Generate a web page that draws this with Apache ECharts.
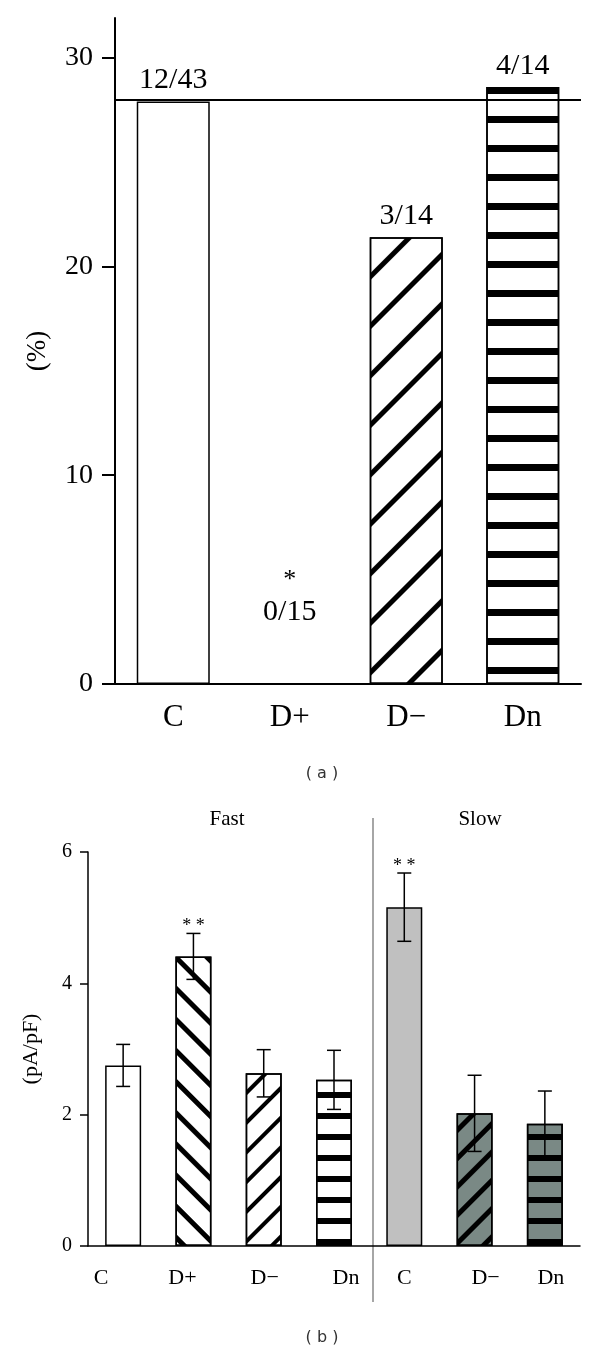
<!DOCTYPE html>
<html>
<head>
<meta charset="utf-8">
<script src="https://cdn.jsdelivr.net/npm/echarts@6/dist/echarts.min.js"></script>
<style>
html,body{margin:0;padding:0;background:#fff;}
#chart{width:600px;height:1353px;}
</style>
</head>
<body>
<div id="chart"></div>
<script>
// ---------- DATA ----------
// Panel (a)
const topCategories = ['C', 'D+', 'D\u2212', 'Dn'];
const topPercent = [27.9, 0, 21.4, 28.6];
const topCounts = ['12/43', '0/15', '3/14', '4/14'];
const topSignif = ['', '*', '', ''];
const topRefLine = 28;
const topYTicks = [0, 10, 20, 30];

// Panel (b)
const bottomCategories = ['C', 'D+', 'D\u2212', 'Dn', 'C', 'D\u2212', 'Dn'];
const bottomMean = [2.75, 4.41, 2.63, 2.53, 5.16, 2.02, 1.86];
const bottomSem = [0.32, 0.35, 0.36, 0.45, 0.52, 0.58, 0.50];
const bottomSignif = ['', '* *', '', '', '* *', '', ''];
const bottomYTicks = [0, 2, 4, 6];
const groupNames = ['Fast', 'Slow'];

// ---------- STYLES ----------
const SERIF = '"Liberation Serif", "Times New Roman", serif';
const topStyle = ['plain', 'plain', 'fwdTop', 'hTop'];
const bottomStyle = ['plain', 'back', 'fwd', 'h', 'gray', 'fwdDark', 'hDark'];
const bottomLabelShift = [-22, -11, 1, 12, 0, 11, 6];

function stripe(th, gap, rot) {
  return {symbol: 'rect', symbolSize: 1, dashArrayX: [1, 0], dashArrayY: [th, gap], rotation: rot, color: '#000'};
}
const styleMap = {
  plain:   {color: '#fff'},
  gray:    {color: '#c0c0c0'},
  fwdTop:  {color: '#fff', decal: stripe(5, 30, -Math.PI / 4)},
  hTop:    {color: '#fff', decal: stripe(7, 22, 0)},
  back:    {color: '#fff', decal: stripe(5, 17, Math.PI / 4)},
  fwd:     {color: '#fff', decal: stripe(4, 17, -Math.PI / 4)},
  h:       {color: '#fff', decal: stripe(6, 15, 0)},
  fwdDark: {color: '#7a8985', decal: stripe(5, 15, -Math.PI / 4)},
  hDark:   {color: '#7a8985', decal: stripe(6, 15, 0)}
};

const chart = echarts.init(document.getElementById('chart'), null, {renderer: 'canvas'});

const topData = topPercent.map((v, i) => {
  const st = styleMap[topStyle[i]];
  const item = {
    value: v,
    itemStyle: Object.assign({borderColor: '#000', borderWidth: 1.5}, st),
    label: {}
  };
  if (topSignif[i]) {
    item.label = {distance: 54, formatter: '{s|' + topSignif[i] + '}\n{n|' + topCounts[i] + '}'};
  } else {
    item.label = {formatter: '{n|' + topCounts[i] + '}'};
  }
  return item;
});

const bottomData = bottomMean.map((v, i) => ({
  value: v,
  itemStyle: Object.assign({borderColor: '#000', borderWidth: 1.5}, styleMap[bottomStyle[i]])
}));

const bottomKeys = bottomCategories.map((c, i) => 'k' + i);
const rich = {};
bottomLabelShift.forEach((s, i) => {
  rich['r' + i] = {
    fontFamily: SERIF, fontSize: 22, color: '#000',
    padding: s < 0 ? [0, -2 * s, 0, 0] : [0, 0, 0, 2 * s]
  };
});

const option = {
  animation: false,
  backgroundColor: '#fff',
  grid: [
    {left: 115, right: 19, top: 18, bottom: 669},
    {left: 88, right: 20, top: 852, bottom: 107}
  ],
  xAxis: [
    {
      gridIndex: 0, type: 'category', data: topCategories,
      axisLine: {lineStyle: {color: '#000', width: 2}},
      axisTick: {length: 11, lineStyle: {color: '#000', width: 2}},
      axisLabel: {fontFamily: SERIF, fontSize: 31, color: '#000', margin: 18},
      splitLine: {show: false}
    },
    {
      gridIndex: 1, type: 'category', data: bottomKeys,
      axisLine: {lineStyle: {color: '#000', width: 1.5}},
      axisTick: {length: 9, lineStyle: {color: '#000', width: 1.5}},
      axisLabel: {
        margin: 21,
        formatter: (val, idx) => '{r' + idx + '|' + bottomCategories[idx] + '}',
        rich: rich
      },
      splitLine: {show: false}
    }
  ],
  yAxis: [
    {
      gridIndex: 0, type: 'value', min: 0, max: 31.9,
      name: '(%)', nameLocation: 'middle', nameGap: 64,
      nameTextStyle: {fontFamily: SERIF, fontSize: 27, color: '#000'},
      axisLine: {show: true, lineStyle: {color: '#000', width: 2}},
      axisTick: {show: true, length: 13, customValues: topYTicks, lineStyle: {color: '#000', width: 2}},
      axisLabel: {fontFamily: SERIF, fontSize: 28, color: '#000', margin: 22, customValues: topYTicks},
      splitLine: {show: false}
    },
    {
      gridIndex: 1, type: 'value', min: 0, max: 6, interval: 2,
      name: '(pA/pF)', nameLocation: 'middle', nameGap: 46,
      nameTextStyle: {fontFamily: SERIF, fontSize: 22, color: '#000'},
      axisLine: {show: true, lineStyle: {color: '#000', width: 1.5}},
      axisTick: {show: true, length: 8, lineStyle: {color: '#000', width: 1.5}},
      axisLabel: {fontFamily: SERIF, fontSize: 20, color: '#000', margin: 16},
      splitLine: {show: false}
    }
  ],
  series: [
    {
      type: 'bar', xAxisIndex: 0, yAxisIndex: 0, barWidth: 73,
      data: topData,
      label: {
        show: true, position: 'top', distance: 4, color: '#000',
        rich: {
          n: {fontFamily: SERIF, fontSize: 30, color: '#000', lineHeight: 34},
          s: {fontFamily: SERIF, fontSize: 26, color: '#000', lineHeight: 30}
        }
      },
      markLine: {
        silent: true, symbol: 'none', label: {show: false},
        lineStyle: {color: '#000', width: 2, type: 'solid'},
        data: [{yAxis: topRefLine}]
      }
    },
    {
      type: 'bar', xAxisIndex: 1, yAxisIndex: 1, barWidth: 36,
      data: bottomData
    },
    {
      type: 'custom', xAxisIndex: 1, yAxisIndex: 1, z: 10,
      data: bottomMean.map((m, i) => [i, m, bottomSem[i]]),
      renderItem: function (params, api) {
        const i = api.value(0), m = api.value(1), s = api.value(2);
        const hi = api.coord([i, m + s]);
        const lo = api.coord([i, m - s]);
        const hw = 7;
        const st = {stroke: '#000', lineWidth: 1.5};
        const children = [
          {type: 'line', shape: {x1: hi[0], y1: hi[1], x2: lo[0], y2: lo[1]}, style: st},
          {type: 'line', shape: {x1: hi[0] - hw, y1: hi[1], x2: hi[0] + hw, y2: hi[1]}, style: st},
          {type: 'line', shape: {x1: lo[0] - hw, y1: lo[1], x2: lo[0] + hw, y2: lo[1]}, style: st}
        ];
        const sig = bottomSignif[params.dataIndex];
        if (sig) {
          children.push({
            type: 'text', x: hi[0], y: hi[1] + 2,
            style: {text: sig, font: '18px ' + SERIF, fill: '#000', textAlign: 'center', textVerticalAlign: 'bottom'}
          });
        }
        return {type: 'group', children: children};
      }
    }
  ],
  graphic: [
    {type: 'text', x: 322, y: 774, style: {text: '( a )', font: '16px "DejaVu Sans", sans-serif', fill: '#333', textAlign: 'center', textVerticalAlign: 'middle'}},
    {type: 'text', x: 322, y: 1338, style: {text: '( b )', font: '16px "DejaVu Sans", sans-serif', fill: '#333', textAlign: 'center', textVerticalAlign: 'middle'}},
    {type: 'text', x: 227, y: 819, style: {text: groupNames[0], font: '21px ' + SERIF, fill: '#000', textAlign: 'center', textVerticalAlign: 'middle'}},
    {type: 'text', x: 480, y: 819, style: {text: groupNames[1], font: '21px ' + SERIF, fill: '#000', textAlign: 'center', textVerticalAlign: 'middle'}},
    {type: 'line', shape: {x1: 373, y1: 818, x2: 373, y2: 1302}, style: {stroke: '#888', lineWidth: 1.5}}
  ]
};
chart.setOption(option);
</script>
</body>
</html>
